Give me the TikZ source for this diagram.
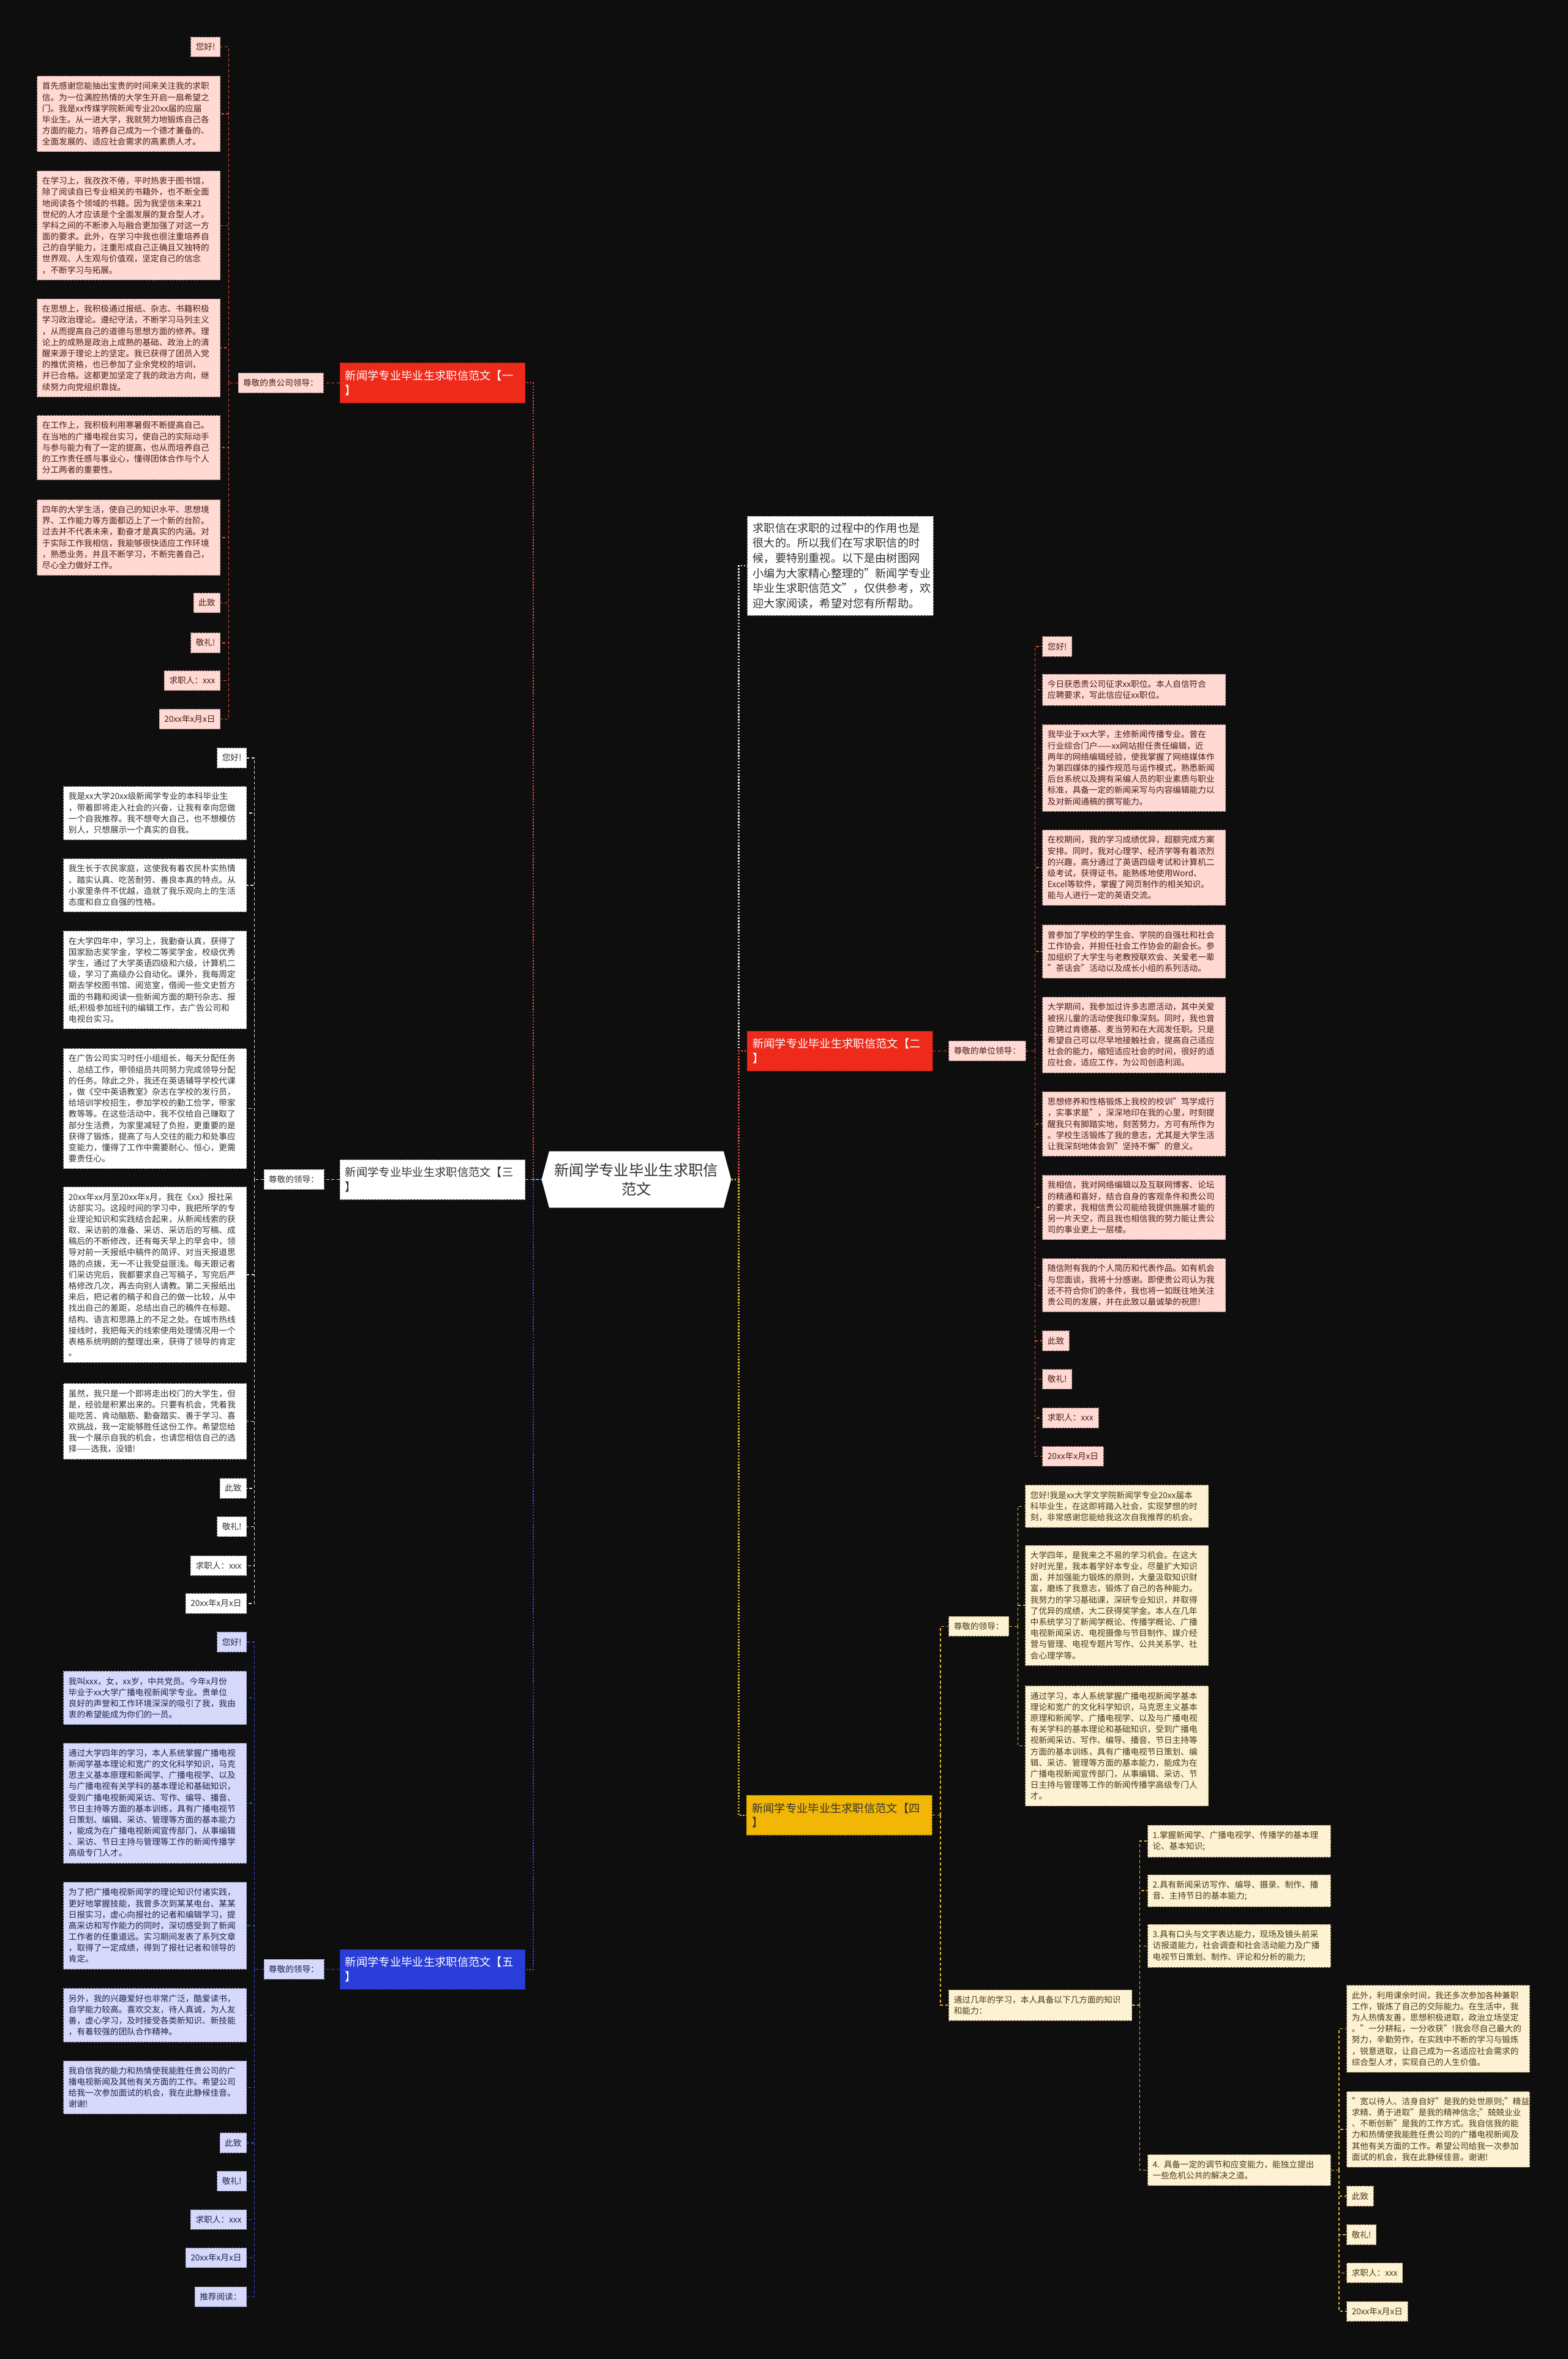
\documentclass[tikz,border=0pt]{standalone}
\usepackage{fontspec}
\setmainfont{Noto Sans CJK SC}
\usetikzlibrary{shapes.symbols}

\definecolor{bgc}{HTML}{0E0E0E}
\definecolor{redfill}{HTML}{EE2A1B}
\definecolor{redline}{HTML}{E04A35}
\definecolor{bluefill}{HTML}{2A3DD8}
\definecolor{blueline}{HTML}{3447D4}
\definecolor{yelfill}{HTML}{F2B705}
\definecolor{yelline}{HTML}{E3B52E}
\definecolor{whiteline}{HTML}{E0E0E0}
\definecolor{pinkfill}{HTML}{FFD9D3}
\definecolor{pinkedge}{HTML}{B98C86}
\definecolor{pinktext}{HTML}{4B1E19}
\definecolor{wedge}{HTML}{9E9E9E}
\definecolor{wtext}{HTML}{333333}
\definecolor{lavfill}{HTML}{D6D9FA}
\definecolor{lavedge}{HTML}{8C92C9}
\definecolor{lavtext}{HTML}{1E2350}
\definecolor{crmfill}{HTML}{FDF2D3}
\definecolor{crmedge}{HTML}{BDA571}
\definecolor{crmtext}{HTML}{4A3B16}

\begin{document}
\begin{tikzpicture}[
  x=1pt, y=-1pt,
  leaf/.style={draw, dashed, dash pattern=on 1.2pt off 0.8pt, line width=0.3pt, align=left, inner xsep=3.3pt, inner ysep=4pt, font=\fontsize{5.55}{7.4}\selectfont},
  wide/.style={text width=115pt},
  pinkbox/.style={leaf, fill=pinkfill, draw=pinkedge, text=pinktext},
  whitebox/.style={leaf, fill=white, draw=wedge, text=wtext},
  lavbox/.style={leaf, fill=lavfill, draw=lavedge, text=lavtext},
  creambox/.style={leaf, fill=crmfill, draw=crmedge, text=crmtext},
  topic/.style={draw, dashed, dash pattern=on 1.2pt off 0.8pt, line width=0.3pt, align=left, text width=116pt, inner xsep=3.6pt, inner ysep=5pt, font=\fontsize{7.45}{9.5}\selectfont},
  rootbox/.style={signal, signal to=west and east, signal pointer angle=150, fill=white, minimum width=126pt, minimum height=37.5pt, inner sep=0pt, align=center, text=wtext, font=\fontsize{9.9}{12.5}\selectfont},
  ln/.style={line width=0.6pt, dash pattern=on 2pt off 1.5pt},
  spine/.style={line width=0.9pt, dash pattern=on 1pt off 1pt}
]
\useasboundingbox (0,0) rectangle (1042,1568);
\fill[bgc] (0,0) rectangle (1042,1568);

% spine positions
\coordinate (ml) at (354.5,0);
\coordinate (mr) at (491,0);
\coordinate (s1) at (152,0);
\coordinate (s2) at (688,0);
\coordinate (s3) at (169,0);
\coordinate (s4) at (625,0);
\coordinate (s4a) at (676.5,0);
\coordinate (s4b) at (757.5,0);
\coordinate (s4c) at (890,0);
\coordinate (s5) at (169,0);

% centre and main topics
\node[rootbox] (root) at (423,784) {新闻学专业毕业生求职信\\范文};
\node[whitebox, anchor=north west, text width=116pt, inner xsep=3.7pt, inner ysep=4.4pt, font=\fontsize{7.4}{10}\selectfont] (intro) at (496.6,343) {求职信在求职的过程中的作用也是\\很大的。所以我们在写求职信的时\\候，要特别重视。以下是由树图网\\小编为大家精心整理的"新闻学专业\\毕业生求职信范文"，仅供参考，欢\\迎大家阅读，希望对您有所帮助。};
\node[topic, fill=redfill, draw=redfill!70!black, text=white] (fan1) at (287.5,254.5) {新闻学专业毕业生求职信范文【一\\】};
\node[topic, fill=redfill, draw=redfill!70!black, text=white] (fan2) at (558.2,698.5) {新闻学专业毕业生求职信范文【二\\】};
\node[topic, fill=white, draw=wedge, text=wtext] (fan3) at (287.5,784) {新闻学专业毕业生求职信范文【三\\】};
\node[topic, fill=yelfill, draw=yelfill!70!black, text=wtext] (fan4) at (557.8,1206.5) {新闻学专业毕业生求职信范文【四\\】};
\node[topic, fill=bluefill, draw=bluefill!70!black, text=white] (fan5) at (287.5,1309) {新闻学专业毕业生求职信范文【五\\】};

% branch one
\node[pinkbox, anchor=east] (lead1) at (215,254.5) {尊敬的贵公司领导：};
\node[pinkbox, anchor=north east] (one1) at (146.5,24.5) {您好!};
\node[pinkbox, wide, anchor=north east] (one2) at (146.5,50.5) {首先感谢您能抽出宝贵的时间来关注我的求职\\信。为一位满腔热情的大学生开启一扇希望之\\门。我是xx传媒学院新闻专业20xx届的应届\\毕业生。从一进大学，我就努力地锻炼自己各\\方面的能力，培养自己成为一个德才兼备的、\\全面发展的、适应社会需求的高素质人才。};
\node[pinkbox, wide, anchor=north east] (one3) at (146.5,113.5) {在学习上，我孜孜不倦，平时热衷于图书馆，\\除了阅读自已专业相关的书籍外，也不断全面\\地阅读各个领域的书籍。因为我坚信未来21\\世纪的人才应该是个全面发展的复合型人才。\\学科之间的不断渗入与融合更加强了对这一方\\面的要求。此外，在学习中我也很注重培养自\\己的自学能力，注重形成自己正确且又独特的\\世界观、人生观与价值观，坚定自己的信念\\，不断学习与拓展。};
\node[pinkbox, wide, anchor=north east] (one4) at (146.5,198.6) {在思想上，我积极通过报纸、杂志、书籍积极\\学习政治理论。遵纪守法，不断学习马列主义\\，从而提高自己的道德与思想方面的修养。理\\论上的成熟是政治上成熟的基础、政治上的清\\醒来源于理论上的坚定。我已获得了团员入党\\的推优资格，也已参加了业余党校的培训，\\并已合格。这都更加坚定了我的政治方向，继\\续努力向党组织靠拢。};
\node[pinkbox, wide, anchor=north east] (one5) at (146.5,276) {在工作上，我积极利用寒暑假不断提高自己。\\在当地的广播电视台实习，使自己的实际动手\\与参与能力有了一定的提高，也从而培养自己\\的工作责任感与事业心，懂得团体合作与个人\\分工两者的重要性。};
\node[pinkbox, wide, anchor=north east] (one6) at (146.5,332) {四年的大学生活，使自己的知识水平、思想境\\界、工作能力等方面都迈上了一个新的台阶。\\过去并不代表未来，勤奋才是真实的内涵。对\\于实际工作我相信，我能够很快适应工作环境\\，熟悉业务，并且不断学习，不断完善自己，\\尽心全力做好工作。};
\node[pinkbox, anchor=north east] (one7) at (146.5,394) {此致};
\node[pinkbox, anchor=north east] (one8) at (146.5,420.5) {敬礼!};
\node[pinkbox, anchor=north east] (one9) at (146.5,445.7) {求职人：xxx};
\node[pinkbox, anchor=north east] (one10) at (146.5,471.3) {20xx年x月x日};

% branch two
\node[pinkbox, anchor=west] (lead2) at (630.5,698.5) {尊敬的单位领导：};
\node[pinkbox, anchor=north west] (two1) at (692.8,423) {您好!};
\node[pinkbox, wide, anchor=north west] (two2) at (692.8,448) {今日获悉贵公司征求xx职位。本人自信符合\\应聘要求，写此信应征xx职位。};
\node[pinkbox, wide, anchor=north west] (two3) at (692.8,481.5) {我毕业于xx大学，主修新闻传播专业。曾在\\行业综合门户——xx网站担任责任编辑，近\\两年的网络编辑经验，使我掌握了网络媒体作\\为第四媒体的操作规范与运作模式，熟悉新闻\\后台系统以及拥有采编人员的职业素质与职业\\标准，具备一定的新闻采写与内容编辑能力以\\及对新闻通稿的撰写能力。};
\node[pinkbox, wide, anchor=north west] (two4) at (692.8,551.5) {在校期间，我的学习成绩优异，超额完成方案\\安排。同时，我对心理学、经济学等有着浓烈\\的兴趣，高分通过了英语四级考试和计算机二\\级考试，获得证书。能熟练地使用Word、\\Excel等软件，掌握了网页制作的相关知识。\\能与人进行一定的英语交流。};
\node[pinkbox, wide, anchor=north west] (two5) at (692.8,614.6) {曾参加了学校的学生会、学院的自强社和社会\\工作协会，并担任社会工作协会的副会长。参\\加组织了大学生与老教授联欢会、关爱老一辈\\"茶话会"活动以及成长小组的系列活动。};
\node[pinkbox, wide, anchor=north west] (two6) at (692.8,662.6) {大学期间，我参加过许多志愿活动，其中关爱\\被拐儿童的活动使我印象深刻。同时，我也曾\\应聘过肯德基、麦当劳和在大润发任职。只是\\希望自己可以尽早地接触社会，提高自己适应\\社会的能力，缩短适应社会的时间，很好的适\\应社会，适应工作，为公司创造利润。};
\node[pinkbox, wide, anchor=north west] (two7) at (692.8,725.6) {思想修养和性格锻炼上我校的校训"笃学成行\\，实事求是"，深深地印在我的心里，时刻提\\醒我只有脚踏实地，刻苦努力，方可有所作为\\。学校生活锻炼了我的意志，尤其是大学生活\\让我深刻地体会到"坚持不懈"的意义。};
\node[pinkbox, wide, anchor=north west] (two8) at (692.8,781) {我相信，我对网络编辑以及互联网博客、论坛\\的精通和喜好，结合自身的客观条件和贵公司\\的要求，我相信贵公司能给我提供施展才能的\\另一片天空，而且我也相信我的努力能让贵公\\司的事业更上一层楼。};
\node[pinkbox, wide, anchor=north west] (two9) at (692.8,836.4) {随信附有我的个人简历和代表作品。如有机会\\与您面谈，我将十分感谢。即使贵公司认为我\\还不符合你们的条件，我也将一如既往地关注\\贵公司的发展，并在此致以最诚挚的祝愿!};
\node[pinkbox, anchor=north west] (two10) at (692.8,884.5) {此致};
\node[pinkbox, anchor=north west] (two11) at (692.8,910) {敬礼!};
\node[pinkbox, anchor=north west] (two12) at (692.8,935.7) {求职人：xxx};
\node[pinkbox, anchor=north west] (two13) at (692.8,961.3) {20xx年x月x日};

% branch three
\node[whitebox, anchor=east] (lead3) at (215.4,784) {尊敬的领导：};
\node[whitebox, anchor=north east] (three1) at (164,497) {您好!};
\node[whitebox, wide, anchor=north east] (three2) at (164,522.6) {我是xx大学20xx级新闻学专业的本科毕业生\\，带着即将走入社会的兴奋，让我有幸向您做\\一个自我推荐。我不想夸大自己，也不想模仿\\别人，只想展示一个真实的自我。};
\node[whitebox, wide, anchor=north east] (three3) at (164,570.6) {我生长于农民家庭，这使我有着农民朴实热情\\、踏实认真、吃苦耐劳、善良本真的特点。从\\小家里条件不优越，造就了我乐观向上的生活\\态度和自立自强的性格。};
\node[whitebox, wide, anchor=north east] (three4) at (164,618.7) {在大学四年中，学习上，我勤奋认真，获得了\\国家励志奖学金，学校二等奖学金，校级优秀\\学生，通过了大学英语四级和六级，计算机二\\级，学习了高级办公自动化。课外，我每周定\\期去学校图书馆、阅览室，借阅一些文史哲方\\面的书籍和阅读一些新闻方面的期刊杂志、报\\纸;积极参加班刊的编辑工作，去广告公司和\\电视台实习。};
\node[whitebox, wide, anchor=north east] (three5) at (164,696.8) {在广告公司实习时任小组组长，每天分配任务\\、总结工作，带领组员共同努力完成领导分配\\的任务。除此之外，我还在英语辅导学校代课\\，做《空中英语教室》杂志在学校的发行员，\\给培训学校招生，参加学校的勤工俭学，带家\\教等等。在这些活动中，我不仅给自己赚取了\\部分生活费，为家里减轻了负担，更重要的是\\获得了锻炼，提高了与人交往的能力和处事应\\变能力，懂得了工作中需要耐心、恒心，更需\\要责任心。};
\node[whitebox, wide, anchor=north east] (three6) at (164,788.8) {20xx年xx月至20xx年x月，我在《xx》报社采\\访部实习。这段时间的学习中，我把所学的专\\业理论知识和实践结合起来，从新闻线索的获\\取、采访前的准备、采访、采访后的写稿、成\\稿后的不断修改，还有每天早上的早会中，领\\导对前一天报纸中稿件的简评、对当天报道思\\路的点拨，无一不让我受益匪浅。每天跟记者\\们采访完后，我都要求自己写稿子，写完后严\\格修改几次，再去向别人请教。第二天报纸出\\来后，把记者的稿子和自己的做一比较，从中\\找出自己的差距，总结出自己的稿件在标题、\\结构、语言和思路上的不足之处。在城市热线\\接线时，我把每天的线索使用处理情况用一个\\表格系统明朗的整理出来，获得了领导的肯定\\。};
\node[whitebox, wide, anchor=north east] (three7) at (164,919.4) {虽然，我只是一个即将走出校门的大学生，但\\是，经验是积累出来的。只要有机会，凭着我\\能吃苦、肯动脑筋、勤奋踏实、善于学习、喜\\欢挑战，我一定能够胜任这份工作。希望您给\\我一个展示自我的机会，也请您相信自己的选\\择——选我，没错!};
\node[whitebox, anchor=north east] (three8) at (164,982.5) {此致};
\node[whitebox, anchor=north east] (three9) at (164,1008) {敬礼!};
\node[whitebox, anchor=north east] (three10) at (164,1034) {求职人：xxx};
\node[whitebox, anchor=north east] (three11) at (164,1059) {20xx年x月x日};

% branch four
\node[creambox, anchor=west] (lead4a) at (630.5,1081) {尊敬的领导：};
\node[creambox, wide, anchor=north west] (four1) at (681.4,987) {您好!我是xx大学文学院新闻学专业20xx届本\\科毕业生，在这即将踏入社会，实现梦想的时\\刻，非常感谢您能给我这次自我推荐的机会。};
\node[creambox, wide, anchor=north west] (four2) at (681.4,1027) {大学四年，是我来之不易的学习机会。在这大\\好时光里，我本着学好本专业，尽量扩大知识\\面，并加强能力锻炼的原则，大量汲取知识财\\富，磨练了我意志，锻炼了自己的各种能力。\\我努力的学习基础课，深研专业知识，并取得\\了优异的成绩，大二获得奖学金。本人在几年\\中系统学习了新闻学概论、传播学概论、广播\\电视新闻采访、电视摄像与节目制作、媒介经\\营与管理、电视专题片写作、公共关系学、社\\会心理学等。};
\node[creambox, wide, anchor=north west] (four3) at (681.4,1120.5) {通过学习，本人系统掌握广播电视新闻学基本\\理论和宽广的文化科学知识，马克思主义基本\\原理和新闻学、广播电视学、以及与广播电视\\有关学科的基本理论和基础知识，受到广播电\\视新闻采访、写作、编导、播音、节日主持等\\方面的基本训练，具有广播电视节日策划、编\\辑、采访、管理等方面的基本能力，能成为在\\广播电视新闻宣传部门，从事编辑、采访、节\\日主持与管理等工作的新闻传播学高级专门人\\才。};
\node[creambox, wide, anchor=north west] (lead4b) at (630.5,1322.4) {通过几年的学习，本人具备以下几方面的知识\\和能力：};
\node[creambox, wide, anchor=north west] (skill1) at (762.7,1213) {1.掌握新闻学、广播电视学、传播学的基本理\\论、基本知识;};
\node[creambox, wide, anchor=north west] (skill2) at (762.7,1246) {2.具有新闻采访写作、编导、摄录、制作、播\\音、主持节日的基本能力;};
\node[creambox, wide, anchor=north west] (skill3) at (762.7,1279) {3.具有口头与文字表达能力，现场及镜头前采\\访报道能力，社会调查和社会活动能力及广播\\电视节日策划、制作、评论和分析的能力;};
\node[creambox, wide, anchor=north west] (skill4) at (762.7,1432) {4. 具备一定的调节和应变能力，能独立提出\\一些危机公共的解决之道。};
\node[creambox, wide, anchor=north west] (end1) at (895,1319.5) {此外，利用课余时间，我还多次参加各种兼职\\工作，锻炼了自己的交际能力。在生活中，我\\为人热情友善，思想积极进取，政治立场坚定\\。"一分耕耘，一分收获"!我会尽自己最大的\\努力，辛勤劳作，在实践中不断的学习与锻炼\\，锐意进取，让自己成为一名适应社会需求的\\综合型人才，实现自己的人生价值。};
\node[creambox, wide, anchor=north west] (end2) at (895,1390) {"宽以待人、洁身自好"是我的处世原则;"精益\\求精、勇于进取"是我的精神信念;"兢兢业业\\、不断创新"是我的工作方式。我自信我的能\\力和热情使我能胜任贵公司的广播电视新闻及\\其他有关方面的工作。希望公司给我一次参加\\面试的机会，我在此静候佳音。谢谢!};
\node[creambox, anchor=north west] (end3) at (895,1453) {此致};
\node[creambox, anchor=north west] (end4) at (895,1478.6) {敬礼!};
\node[creambox, anchor=north west] (end5) at (895,1504) {求职人：xxx};
\node[creambox, anchor=north west] (end6) at (895,1529.6) {20xx年x月x日};

% branch five
\node[lavbox, anchor=east] (lead5) at (215.4,1309) {尊敬的领导：};
\node[lavbox, anchor=north east] (five1) at (164,1084.7) {您好!};
\node[lavbox, wide, anchor=north east] (five2) at (164,1110.7) {我叫xxx，女，xx岁，中共党员。今年x月份\\毕业于xx大学广播电视新闻学专业。贵单位\\良好的声誉和工作环境深深的吸引了我，我由\\衷的希望能成为你们的一员。};
\node[lavbox, wide, anchor=north east] (five3) at (164,1158.4) {通过大学四年的学习，本人系统掌握广播电视\\新闻学基本理论和宽广的文化科学知识，马克\\思主义基本原理和新闻学、广播电视学、以及\\与广播电视有关学科的基本理论和基础知识，\\受到广播电视新闻采访、写作、编导、播音、\\节日主持等方面的基本训练，具有广播电视节\\日策划、编辑、采访、管理等方面的基本能力\\，能成为在广播电视新闻宣传部门，从事编辑\\、采访、节日主持与管理等工作的新闻传播学\\高级专门人才。};
\node[lavbox, wide, anchor=north east] (five4) at (164,1251) {为了把广播电视新闻学的理论知识付诸实践，\\更好地掌握技能，我曾多次到某某电台、某某\\日报实习，虚心向报社的记者和编辑学习，提\\高采访和写作能力的同时，深切感受到了新闻\\工作者的任重道远。实习期间发表了系列文章\\，取得了一定成绩，得到了报社记者和领导的\\肯定。};
\node[lavbox, wide, anchor=north east] (five5) at (164,1321.5) {另外，我的兴趣爱好也非常广泛，酷爱读书，\\自学能力较高。喜欢交友，待人真诚，为人友\\善，虚心学习，及时接受各类新知识、新技能\\，有着较强的团队合作精神。};
\node[lavbox, wide, anchor=north east] (five6) at (164,1369.6) {我自信我的能力和热情使我能胜任贵公司的广\\播电视新闻及其他有关方面的工作。希望公司\\给我一次参加面试的机会，我在此静候佳音。\\谢谢!};
\node[lavbox, anchor=north east] (five7) at (164,1417.6) {此致};
\node[lavbox, anchor=north east] (five8) at (164,1443) {敬礼!};
\node[lavbox, anchor=north east] (five9) at (164,1468.6) {求职人：xxx};
\node[lavbox, anchor=north east] (five10) at (164,1494) {20xx年x月x日};
\node[lavbox, anchor=north east] (five11) at (164,1520) {推荐阅读：};

% main connectors
\draw[spine, draw=whiteline] (root.east) -- (root.east -| mr) |- (intro.west);
\draw[spine, draw=redline] (root.east) -- (root.east -| mr) |- (fan2.west);
\draw[spine, draw=yelline] (root.east) -- (root.east -| mr) |- (fan4.west);
\draw[spine, draw=redline] (root.west) -- (root.west -| ml) |- (fan1.east);
\draw[spine, draw=blueline] (root.west) -- (root.west -| ml) |- (fan5.east);
\draw[ln, draw=whiteline] (fan3.east) -- (root.west);

% branch connectors
\draw[ln, draw=redline] (fan1.west) -- (lead1.east);
\draw[ln, draw=redline] (lead1.west) -- (lead1.west -| s1)
  (lead1.west -| s1) |- (one1.east) (lead1.west -| s1) |- (one2.east)
  (lead1.west -| s1) |- (one3.east) (lead1.west -| s1) |- (one4.east)
  (lead1.west -| s1) |- (one5.east) (lead1.west -| s1) |- (one6.east)
  (lead1.west -| s1) |- (one7.east) (lead1.west -| s1) |- (one8.east)
  (lead1.west -| s1) |- (one9.east) (lead1.west -| s1) |- (one10.east);

\draw[ln, draw=redline] (fan2.east) -- (lead2.west);
\draw[ln, draw=redline] (lead2.east) -- (lead2.east -| s2)
  (lead2.east -| s2) |- (two1.west) (lead2.east -| s2) |- (two2.west)
  (lead2.east -| s2) |- (two3.west) (lead2.east -| s2) |- (two4.west)
  (lead2.east -| s2) |- (two5.west) (lead2.east -| s2) |- (two6.west)
  (lead2.east -| s2) |- (two7.west) (lead2.east -| s2) |- (two8.west)
  (lead2.east -| s2) |- (two9.west) (lead2.east -| s2) |- (two10.west)
  (lead2.east -| s2) |- (two11.west) (lead2.east -| s2) |- (two12.west)
  (lead2.east -| s2) |- (two13.west);

\draw[ln, draw=whiteline] (fan3.west) -- (lead3.east);
\draw[ln, draw=whiteline] (lead3.west) -- (lead3.west -| s3)
  (lead3.west -| s3) |- (three1.east) (lead3.west -| s3) |- (three2.east)
  (lead3.west -| s3) |- (three3.east) (lead3.west -| s3) |- (three4.east)
  (lead3.west -| s3) |- (three5.east) (lead3.west -| s3) |- (three6.east)
  (lead3.west -| s3) |- (three7.east) (lead3.west -| s3) |- (three8.east)
  (lead3.west -| s3) |- (three9.east) (lead3.west -| s3) |- (three10.east)
  (lead3.west -| s3) |- (three11.east);

\draw[ln, draw=yelline] (fan4.east) -- (fan4.east -| s4)
  (fan4.east -| s4) |- (lead4a.west) (fan4.east -| s4) |- (lead4b.west);
\draw[ln, draw=yelline] (lead4a.east) -- (lead4a.east -| s4a)
  (lead4a.east -| s4a) |- (four1.west) (lead4a.east -| s4a) |- (four2.west)
  (lead4a.east -| s4a) |- (four3.west);
\draw[ln, draw=yelline] (lead4b.east) -- (lead4b.east -| s4b)
  (lead4b.east -| s4b) |- (skill1.west) (lead4b.east -| s4b) |- (skill2.west)
  (lead4b.east -| s4b) |- (skill3.west) (lead4b.east -| s4b) |- (skill4.west);
\draw[ln, draw=yelline] (skill4.east) -- (skill4.east -| s4c)
  (skill4.east -| s4c) |- (end1.west) (skill4.east -| s4c) |- (end2.west)
  (skill4.east -| s4c) |- (end3.west) (skill4.east -| s4c) |- (end4.west)
  (skill4.east -| s4c) |- (end5.west) (skill4.east -| s4c) |- (end6.west);

\draw[ln, draw=blueline] (fan5.west) -- (lead5.east);
\draw[ln, draw=blueline] (lead5.west) -- (lead5.west -| s5)
  (lead5.west -| s5) |- (five1.east) (lead5.west -| s5) |- (five2.east)
  (lead5.west -| s5) |- (five3.east) (lead5.west -| s5) |- (five4.east)
  (lead5.west -| s5) |- (five5.east) (lead5.west -| s5) |- (five6.east)
  (lead5.west -| s5) |- (five7.east) (lead5.west -| s5) |- (five8.east)
  (lead5.west -| s5) |- (five9.east) (lead5.west -| s5) |- (five10.east)
  (lead5.west -| s5) |- (five11.east);
\end{tikzpicture}
\end{document}
